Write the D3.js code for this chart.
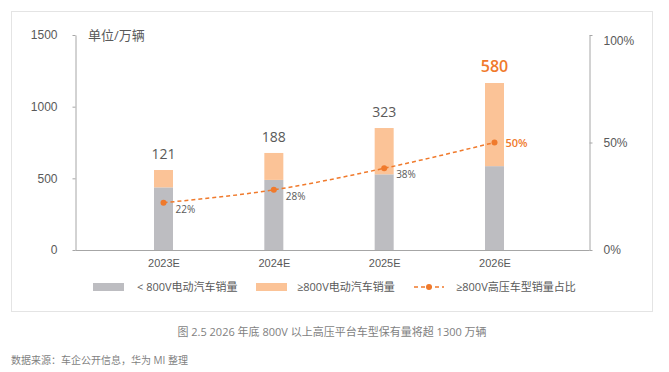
<!DOCTYPE html>
<html>
<head>
<meta charset="utf-8">
<script src="https://cdn.jsdelivr.net/npm/d3@7"></script>
<style>
  body { margin: 0; background: #fff; }
  svg { display: block; font-family: "Open Sans", "Noto Sans CJK SC", sans-serif; }
</style>
</head>
<body>
<div id="chart"></div>
<script>
// chart data
var years = ["2023E", "2024E", "2025E", "2026E"];
var below800 = [437, 489, 528, 585];
var above800 = [121, 188, 323, 580];
var share = [22, 28, 38, 50];
var leftTicks = [0, 500, 1000, 1500];
var rightTicks = [0, 50, 100];

var svgWidth = 669;
var svgHeight = 372;

var svg = d3.select("#chart")
  .append("svg")
  .attr("width", svgWidth)
  .attr("height", svgHeight);

// dotted frame
svg.append("rect")
  .attr("x", 11.5).attr("y", 11.5)
  .attr("width", 641).attr("height", 300)
  .attr("fill", "none")
  .attr("stroke", "#c8c8c8")
  .attr("stroke-dasharray", "1,1");

var axisLeftX = 75.5, axisRightX = 589.5;
var plotTop = 35, plotBottom = 250;

var xScale = d3.scalePoint().domain(years).range([163.5, 494.5]);
var yScale = d3.scaleLinear().domain([0, 1500]).range([plotBottom, plotTop]);
var pScale = d3.scaleLinear().domain([0, 100]).range([plotBottom, plotTop]);

var axisColor = "#a6a6a6";
var textColor = "#595959";
var grayBar = "#bdbdc1";
var peachBar = "#fbc397";
var orange = "#f07a2c";

// axes
var leftG = svg.append("g")
  .attr("transform", `translate(${axisLeftX},0)`)
  .call(d3.axisLeft(yScale).tickValues(leftTicks).tickSizeInner(3).tickSizeOuter(0).tickPadding(15)
    .tickFormat(d3.format("d")));
var rightG = svg.append("g")
  .attr("transform", `translate(${axisRightX},0)`)
  .call(d3.axisRight(pScale).tickValues(rightTicks).tickSizeInner(3).tickSizeOuter(0).tickPadding(11)
    .tickFormat(d => d + "%"));
[leftG, rightG].forEach(function(g) {
  g.selectAll("path, line").attr("stroke", axisColor);
  g.selectAll("text").attr("fill", textColor).attr("font-size", 12);
});
rightG.selectAll(".tick text").attr("dy", (d) => d === 100 ? "0.75em" : "0.32em");

// bars
var bw = 19;
svg.selectAll(".low")
  .data(years)
  .enter().append("rect")
  .attr("x", d => xScale(d) - bw / 2)
  .attr("y", (d, i) => yScale(below800[i]))
  .attr("width", bw)
  .attr("height", (d, i) => plotBottom - yScale(below800[i]))
  .attr("fill", grayBar);

svg.selectAll(".high")
  .data(years)
  .enter().append("rect")
  .attr("x", d => xScale(d) - bw / 2)
  .attr("y", (d, i) => yScale(below800[i] + above800[i]))
  .attr("width", bw)
  .attr("height", (d, i) => yScale(below800[i]) - yScale(below800[i] + above800[i]))
  .attr("fill", peachBar);

// baseline
svg.append("line")
  .attr("x1", axisLeftX).attr("x2", axisRightX)
  .attr("y1", plotBottom + 0.5).attr("y2", plotBottom + 0.5)
  .attr("stroke", axisColor);

// x labels
var xG = svg.append("g")
  .attr("transform", `translate(0,${plotBottom})`)
  .call(d3.axisBottom(xScale).tickSize(0).tickPadding(9));
xG.select(".domain").remove();
xG.selectAll("text").attr("fill", textColor).attr("font-size", 11);

// value labels above bars
svg.selectAll(".val")
  .data(years)
  .enter().append("text")
  .attr("x", d => xScale(d))
  .attr("y", (d, i) => yScale(below800[i] + above800[i]) - 11)
  .attr("text-anchor", "middle")
  .attr("fill", (d, i) => i === 3 ? orange : textColor)
  .attr("font-size", (d, i) => i === 3 ? 16 : 14)
  .attr("font-weight", (d, i) => i === 3 ? 600 : "normal")
  .text((d, i) => above800[i]);

// share line
var line = d3.line()
  .x(d => xScale(d.year))
  .y(d => pScale(d.v))
  .curve(d3.curveMonotoneX);
var pts = years.map((y, i) => ({ year: y, v: share[i] }));

svg.append("path")
  .datum(pts)
  .attr("d", line)
  .attr("fill", "none")
  .attr("stroke", orange)
  .attr("stroke-width", 1.5)
  .attr("stroke-dasharray", "4,3");

svg.selectAll(".dot")
  .data(pts)
  .enter().append("circle")
  .attr("cx", d => xScale(d.year))
  .attr("cy", d => pScale(d.v))
  .attr("r", 3)
  .attr("fill", orange);

svg.selectAll(".pct")
  .data(pts)
  .enter().append("text")
  .attr("x", d => xScale(d.year) + (d.year === "2026E" ? 11 : 12))
  .attr("y", d => pScale(d.v) + (d.year === "2026E" ? 4 : 10))
  .attr("fill", d => d.year === "2026E" ? orange : textColor)
  .attr("font-size", d => d.year === "2026E" ? 11 : 10)
  .attr("font-weight", d => d.year === "2026E" ? 600 : "normal")
  .text(d => d.v + "%");

// unit label
svg.append("text")
  .attr("x", 88).attr("y", 40)
  .attr("fill", textColor)
  .attr("font-size", 13)
  .text("单位/万辆");

// legend
var lg = svg.append("g").attr("font-size", 11).attr("fill", textColor);
lg.append("rect").attr("x", 93).attr("y", 283).attr("width", 31).attr("height", 8).attr("fill", grayBar);
lg.append("text").attr("x", 137).attr("y", 291).text("< 800V电动汽车销量");
lg.append("rect").attr("x", 256).attr("y", 283).attr("width", 31).attr("height", 8).attr("fill", peachBar);
lg.append("text").attr("x", 297).attr("y", 291).text("≥800V电动汽车销量");
lg.append("line").attr("x1", 414).attr("x2", 444).attr("y1", 287).attr("y2", 287)
  .attr("stroke", orange).attr("stroke-width", 1.5).attr("stroke-dasharray", "4,3");
lg.append("circle").attr("cx", 429).attr("cy", 287).attr("r", 3).attr("fill", orange);
lg.append("text").attr("x", 456).attr("y", 291).text("≥800V高压车型销量占比");

// caption and source
svg.append("text")
  .attr("x", 332).attr("y", 336)
  .attr("text-anchor", "middle")
  .attr("fill", "#7f7f7f")
  .attr("font-size", 11)
  .text("图 2.5 2026 年底 800V 以上高压平台车型保有量将超 1300 万辆");
svg.append("text")
  .attr("x", 11).attr("y", 364)
  .attr("fill", "#7f7f7f")
  .attr("font-size", 10)
  .text("数据来源：车企公开信息，华为 MI 整理");
</script>
</body>
</html>
